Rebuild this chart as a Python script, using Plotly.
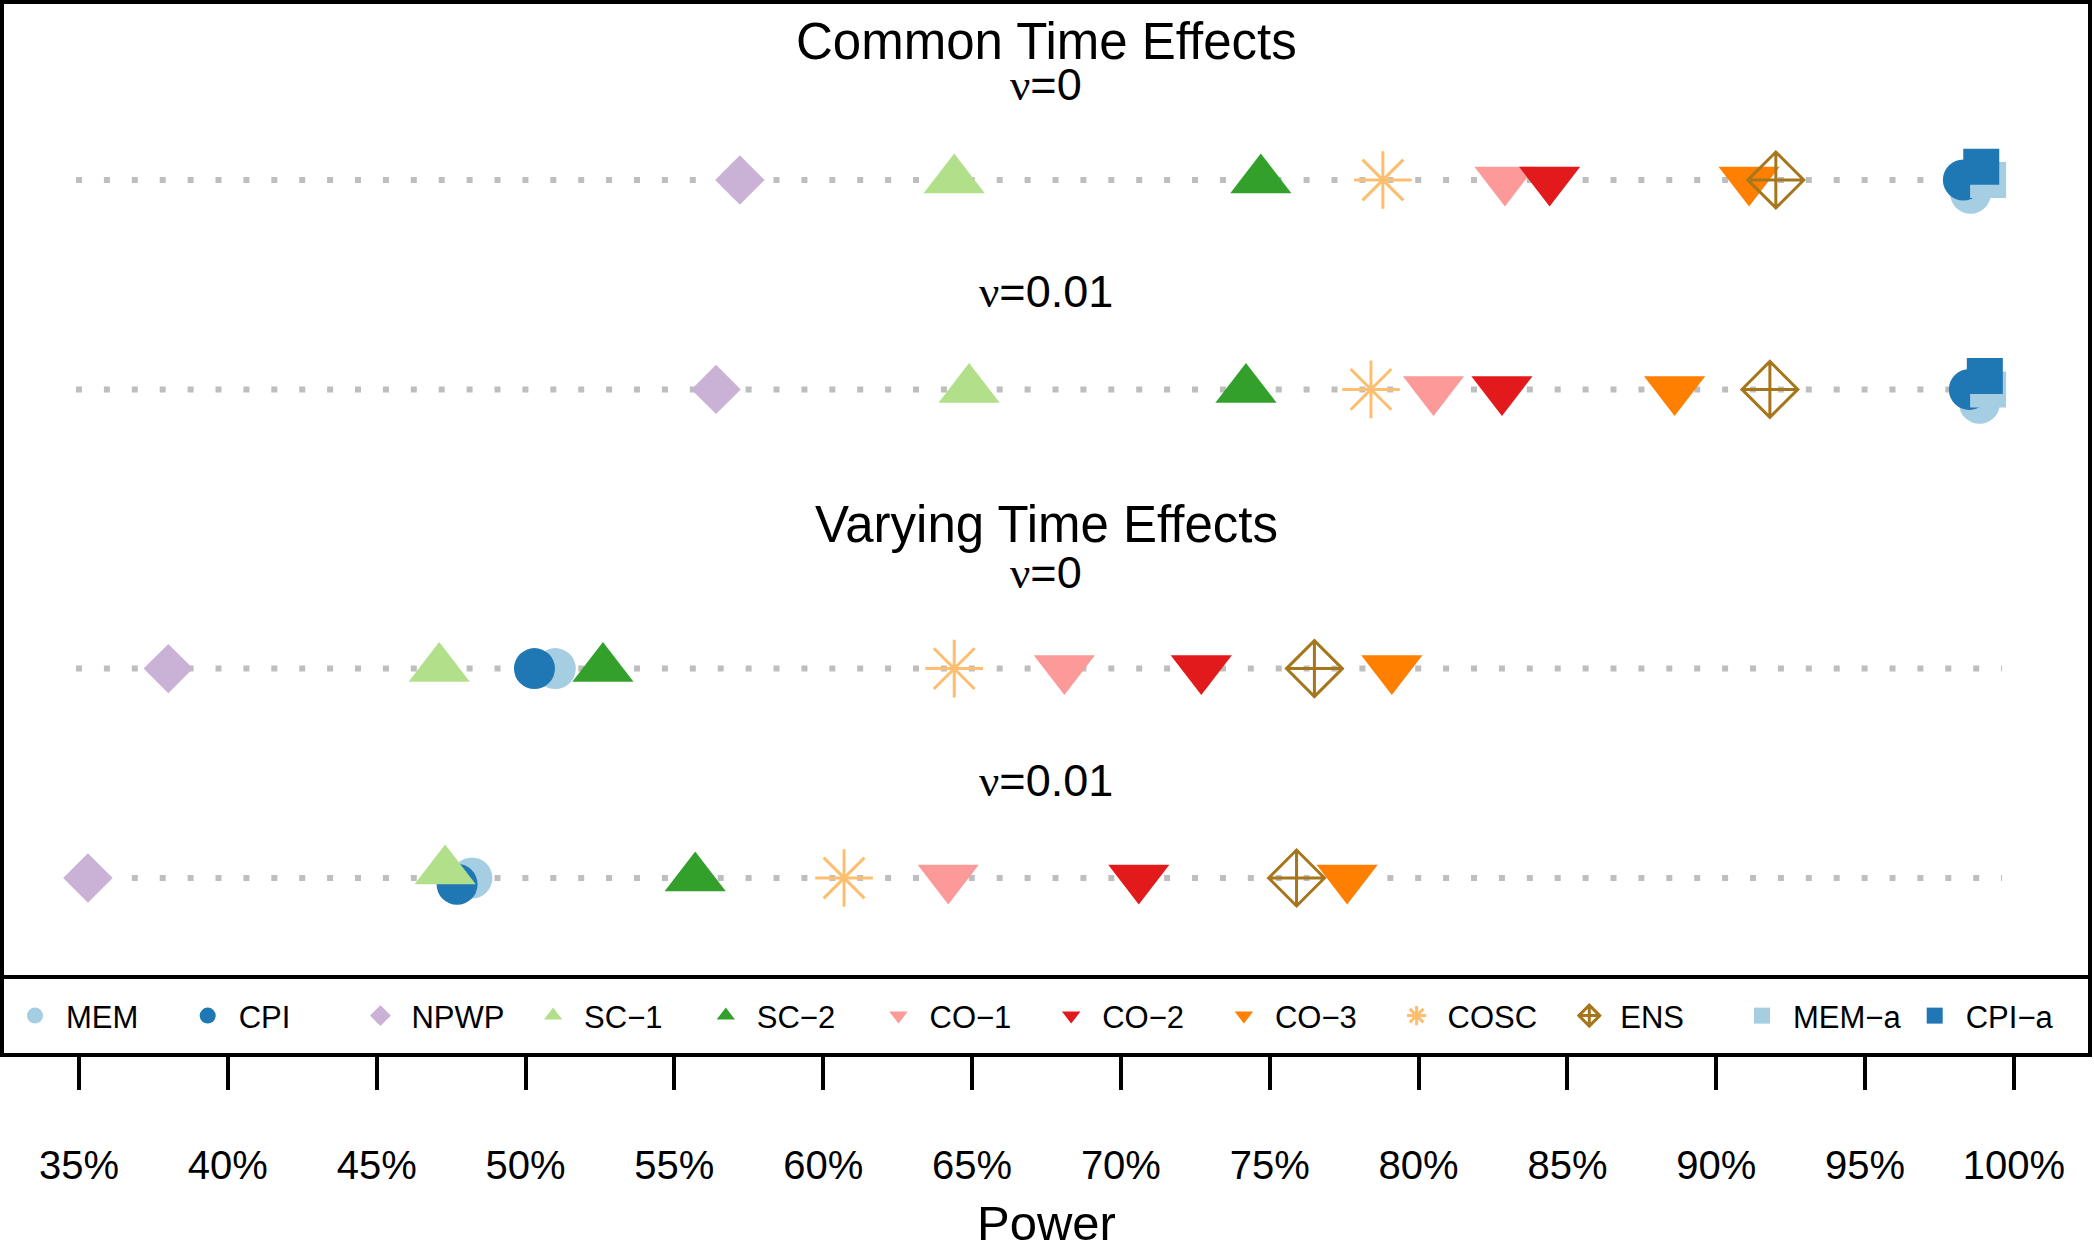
import plotly.graph_objects as go

# ---------------- data ----------------
methods = ["MEM", "CPI", "NPWP", "SC−1", "SC−2", "CO−1", "CO−2", "CO−3", "COSC", "ENS", "MEM−a", "CPI−a"]

# power (%) per method, one list per scenario row
common_nu0 = [98.54, 98.30, 57.2, 64.4, 74.7, 82.9, 84.4, 91.1, 78.8, 92.0, 99.13, 98.9]
common_nu001 = [98.84, 98.50, 56.4, 64.9, 74.2, 80.5, 82.8, 88.6, 78.4, 91.8, 99.13, 99.02]
varying_nu0 = [51.0, 50.3, 38.0, 47.1, 52.6, 68.1, 72.7, 79.1, 64.4, 76.5, None, None]
varying_nu001 = [48.2, 47.7, 35.3, 47.3, 55.7, 64.2, 70.6, 77.6, 60.7, 75.9, None, None]

# small vertical jitter used in the original to separate overlapping symbols
jitter_common_nu0 = [-0.19, 0, 0, 0, 0, 0, 0, 0, 0, 0, 0, 0.19]
jitter_common_nu001 = [-0.2, 0, 0, 0, 0, 0, 0, 0, 0, 0, 0, 0.19]
jitter_varying_nu0 = [0] * 12
jitter_varying_nu001 = [0, -0.09, 0, 0.1, 0, 0, 0, 0, 0, 0, 0, 0]

rows = [common_nu0, common_nu001, varying_nu0, varying_nu001]
jitters = [jitter_common_nu0, jitter_common_nu001, jitter_varying_nu0, jitter_varying_nu001]
row_y = [10, 7, 3, 0]

tick_values = [35, 40, 45, 50, 55, 60, 65, 70, 75, 80, 85, 90, 95, 100]
tick_labels = ["35%", "40%", "45%", "50%", "55%", "60%", "65%", "70%", "75%", "80%", "85%", "90%", "95%", "100%"]

guide_start, guide_end = 34.9, 99.6

# ---------------- styles ----------------
styles = {
    "MEM":   dict(symbol="circle", color="#A6CEE3", size=41),
    "CPI":   dict(symbol="circle", color="#1F78B4", size=41),
    "NPWP":  dict(symbol="diamond", color="#CAB2D6", size=38),
    "SC−1":  dict(symbol="triangle-up", color="#B2DF8A", size=53),
    "SC−2":  dict(symbol="triangle-up", color="#33A02C", size=53),
    "CO−1":  dict(symbol="triangle-down", color="#FB9A99", size=53),
    "CO−2":  dict(symbol="triangle-down", color="#E31A1C", size=53),
    "CO−3":  dict(symbol="triangle-down", color="#FF7F00", size=53),
    "COSC":  dict(symbol="asterisk-open", color="#FDBF6F", size=48, lw=3),
    "ENS":   dict(symbol="diamond-cross-open", color="#A6761D", size=43, lw=3),
    "MEM−a": dict(symbol="square", color="#A6CEE3", size=36),
    "CPI−a": dict(symbol="square", color="#1F78B4", size=36),
}

FONT = "Liberation Sans, Arial, Helvetica, sans-serif"

fig = go.Figure()

# dotted guide lines
for ry in row_y:
    fig.add_trace(go.Scatter(
        x=[guide_start, guide_end], y=[ry, ry], mode="lines",
        line=dict(color="#BEBEBE", width=6, dash="6px,21.9px"),
        hoverinfo="skip", showlegend=False))

for i, m in enumerate(methods):
    st = styles[m]
    xs, ys = [], []
    for vals, jit, ry in zip(rows, jitters, row_y):
        if vals[i] is None:
            continue
        xs.append(vals[i])
        ys.append(ry + jit[i])
    is_open = st["symbol"].endswith("open")
    marker = dict(symbol=st["symbol"], size=st["size"], color=st["color"])
    if is_open:
        marker["line"] = dict(color=st["color"], width=st.get("lw", 3))
    else:
        marker["line"] = dict(width=0)
    fig.add_trace(go.Scatter(x=xs, y=ys, mode="markers", name=m, marker=marker))

# titles
nu = '<span style="font-family:Liberation Serif, DejaVu Serif, serif">ν</span>'
annots = [
    ("Common Time Effects", 11.98, 51),
    (nu + "=0", 11.37, 45),
    (nu + "=0.01", 8.40, 45),
    ("Varying Time Effects", 5.07, 51),
    (nu + "=0", 4.37, 45),
    (nu + "=0.01", 1.40, 45),
]
for txt, yy, fs in annots:
    fig.add_annotation(x=0.5, xref="paper", y=yy, yref="y", text=txt, showarrow=False,
                       xanchor="center", yanchor="middle",
                       font=dict(family=FONT, size=fs, color="black"))

# x-axis title placed below the tick labels
fig.add_annotation(x=0.5, xref="paper", y=-0.162, yref="paper", text="Power", showarrow=False,
                   xanchor="center", yanchor="middle",
                   font=dict(family=FONT, size=49, color="black"))

# separator between plotting region and legend box
fig.add_shape(type="line", xref="paper", yref="paper", x0=0, x1=1, y0=0.07245, y1=0.07245,
              line=dict(color="black", width=4))

fig.update_layout(
    width=2094, height=1245,
    margin=dict(l=4, r=6, t=4, b=192, autoexpand=False),
    paper_bgcolor="white", plot_bgcolor="white",
    font=dict(family=FONT, color="black"),
    showlegend=True,
    legend=dict(orientation="h", x=0, xanchor="left", y=0.0353, yanchor="middle",
                itemwidth=52, entrywidth=105.7, entrywidthmode="pixels",
                font=dict(family=FONT, size=31, color="black"),
                bgcolor="rgba(0,0,0,0)", borderwidth=0, itemclick=False),
    xaxis=dict(range=[32.481, 102.486], tickvals=tick_values, ticktext=tick_labels,
               ticks="outside", ticklen=33, tickwidth=3.5, tickcolor="black",
               tickfont=dict(family=FONT, size=40, color="black"),
               ticklabelstandoff=41,
               showline=True, mirror=True, linecolor="black", linewidth=4,
               showgrid=False, zeroline=False),
    yaxis=dict(range=[-2.507, 12.521], showticklabels=False, ticks="",
               showline=True, mirror=True, linecolor="black", linewidth=4,
               showgrid=False, zeroline=False),
)

fig.write_html("out.html", config={"displayModeBar": False},
               post_script="document.body.style.margin='0px';")
